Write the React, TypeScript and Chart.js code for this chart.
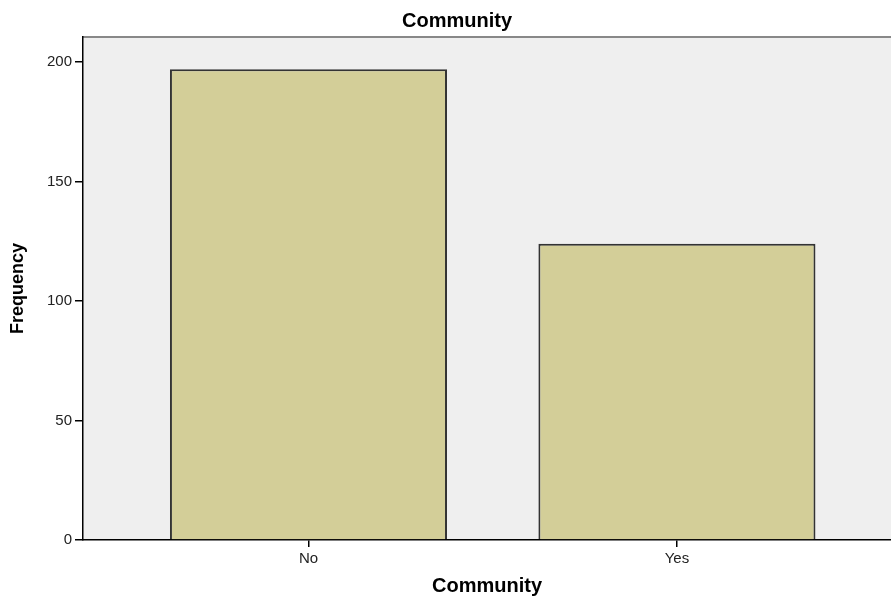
import React, { useEffect, useRef } from "react";
import { Chart, registerables } from "chart.js";

Chart.register(...registerables);

const categories: string[] = ["No", "Yes"];
const frequencies: number[] = [197, 124];
const yTickValues: number[] = [0, 50, 100, 150, 200];
const chartTitle = "Community";
const xAxisTitle = "Community";
const yAxisTitle = "Frequency";

const FONT = "'Liberation Sans', Arial, sans-serif";

export default function App() {
  const canvasRef = useRef<HTMLCanvasElement | null>(null);

  useEffect(() => {
    const canvas = canvasRef.current;
    if (!canvas) return;

    const plotBg = {
      id: "plotBg",
      beforeDraw(chart: any) {
        const { ctx, chartArea } = chart;
        ctx.save();
        ctx.fillStyle = "#EFEFEF";
        ctx.fillRect(chartArea.left, chartArea.top, chartArea.right - chartArea.left, chartArea.bottom - chartArea.top);
        ctx.strokeStyle = "#888888";
        ctx.lineWidth = 2;
        ctx.beginPath();
        ctx.moveTo(chartArea.left, chartArea.top);
        ctx.lineTo(chartArea.right, chartArea.top);
        ctx.stroke();
        ctx.restore();
      },
      afterDraw(chart: any) {
        const { ctx } = chart;
        ctx.save();
        ctx.fillStyle = "#000";
        ctx.font = `bold 20px ${FONT}`;
        ctx.textAlign = "center";
        ctx.textBaseline = "middle";
        ctx.fillText(chartTitle, 457, 21);
        ctx.restore();
      },
    };

    const chart = new Chart(canvas, {
      type: "bar",
      data: {
        datasets: [
          {
            data: categories.map((_, i) => ({ x: i, y: frequencies[i] })),
            backgroundColor: "#D3CE98",
            borderColor: "#333333",
            borderWidth: 2,
            barPercentage: 0.752,
            categoryPercentage: 1,
          } as any,
        ],
      },
      plugins: [plotBg],
      options: {
        animation: false,
        responsive: false,
        maintainAspectRatio: false,
        layout: { padding: { top: 37, left: 0, right: 0, bottom: 0 } },
        plugins: {
          legend: { display: false },
          tooltip: { enabled: false },
          title: { display: false },
        },
        scales: {
          x: {
            type: "linear",
            min: -0.612,
            max: 1.581,
            offset: false,
            afterBuildTicks(scale: any) {
              scale.ticks = categories.map((_, i) => ({ value: i }));
            },
            afterFit(scale: any) {
              scale.height = 59;
            },
            ticks: {
              autoSkip: false,
              maxRotation: 0,
              padding: 3,
              color: "#222",
              font: { family: FONT, size: 15 },
              callback: (v: any) => categories[Number(v)] ?? "",
            },
            grid: {
              offset: false,
              drawOnChartArea: false,
              drawTicks: true,
              tickLength: 7,
              color: "#000",
              lineWidth: 1.5,
            },
            border: { display: true, color: "#000", width: 1.5 },
            title: {
              display: true,
              text: xAxisTitle,
              color: "#000",
              font: { family: FONT, size: 20, weight: "bold" },
              padding: { top: 0, bottom: 1 },
            },
          },
          y: {
            min: 0,
            max: 210.5,
            afterBuildTicks(scale: any) {
              scale.ticks = yTickValues.map((v) => ({ value: v }));
            },
            afterFit(scale: any) {
              scale.width = 83;
            },
            ticks: {
              padding: 3,
              color: "#222",
              font: { family: FONT, size: 15 },
            },
            grid: {
              drawOnChartArea: false,
              drawTicks: true,
              tickLength: 8,
              color: "#000",
              lineWidth: 1.5,
            },
            border: { display: true, color: "#000", width: 1.5 },
            title: {
              display: true,
              text: yAxisTitle,
              color: "#000",
              font: { family: FONT, size: 18, weight: "bold" },
              padding: { top: 7, bottom: 0 },
            },
          },
        },
      } as any,
    });

    return () => chart.destroy();
  }, []);

  return (
    <div style={{ position: "fixed", left: 0, top: 0, width: 891, height: 599, background: "#fff" }}>
      <canvas ref={canvasRef} width={891} height={599} style={{ width: 891, height: 599, display: "block" }} />
    </div>
  );
}
